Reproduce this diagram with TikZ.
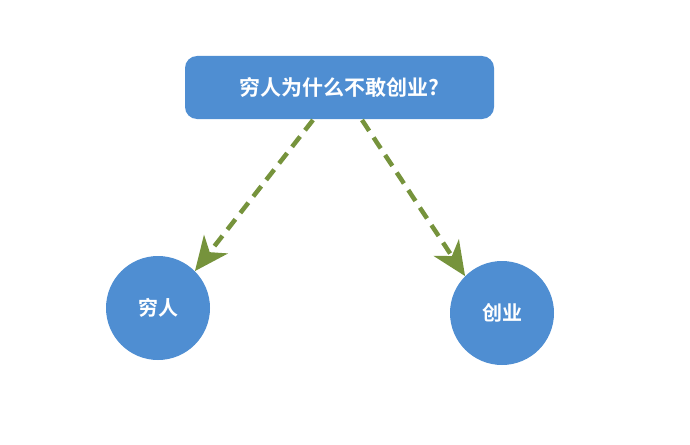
\documentclass[tikz,border=0pt]{standalone}
\usepackage{fontspec}
\newfontfamily\cjk{Noto Sans CJK SC}[BoldFont={* Bold}]
\usetikzlibrary{arrows.meta}
\definecolor{nodeblue}{HTML}{4F8ED2}
\definecolor{arrgreen}{HTML}{76933C}
\tikzset{
  boxnode/.style={fill=nodeblue,rounded corners=12pt,minimum width=309pt,minimum height=63pt,text=white,font=\cjk\bfseries\fontsize{21pt}{24pt}\selectfont},
  circnode/.style={circle,fill=nodeblue,minimum size=104pt,inner sep=0pt,text=white,font=\cjk\bfseries\fontsize{20pt}{24pt}\selectfont},
  conn/.style={arrgreen,line width=4.5pt,dash pattern=on 13pt off 8pt,-{Stealth[length=34pt,width=30pt,inset=10pt]}}
}
\begin{document}
\begin{tikzpicture}[x=1pt,y=-1pt]
\useasboundingbox (0,0) rectangle (690,444);
\node[boxnode] (q) at (339.5,87.5) {穷人为什么不敢创业?};
\node[circnode] (p) at (158,308) {穷人};
\node[circnode] (c) at (502,313) {创业};
\coordinate (s1) at (313,120);
\coordinate (s2) at (362,120);
\draw[conn] (s1) -- (p.north east);
\draw[conn] (s2) -- (c.north west);
\end{tikzpicture}
\end{document}
